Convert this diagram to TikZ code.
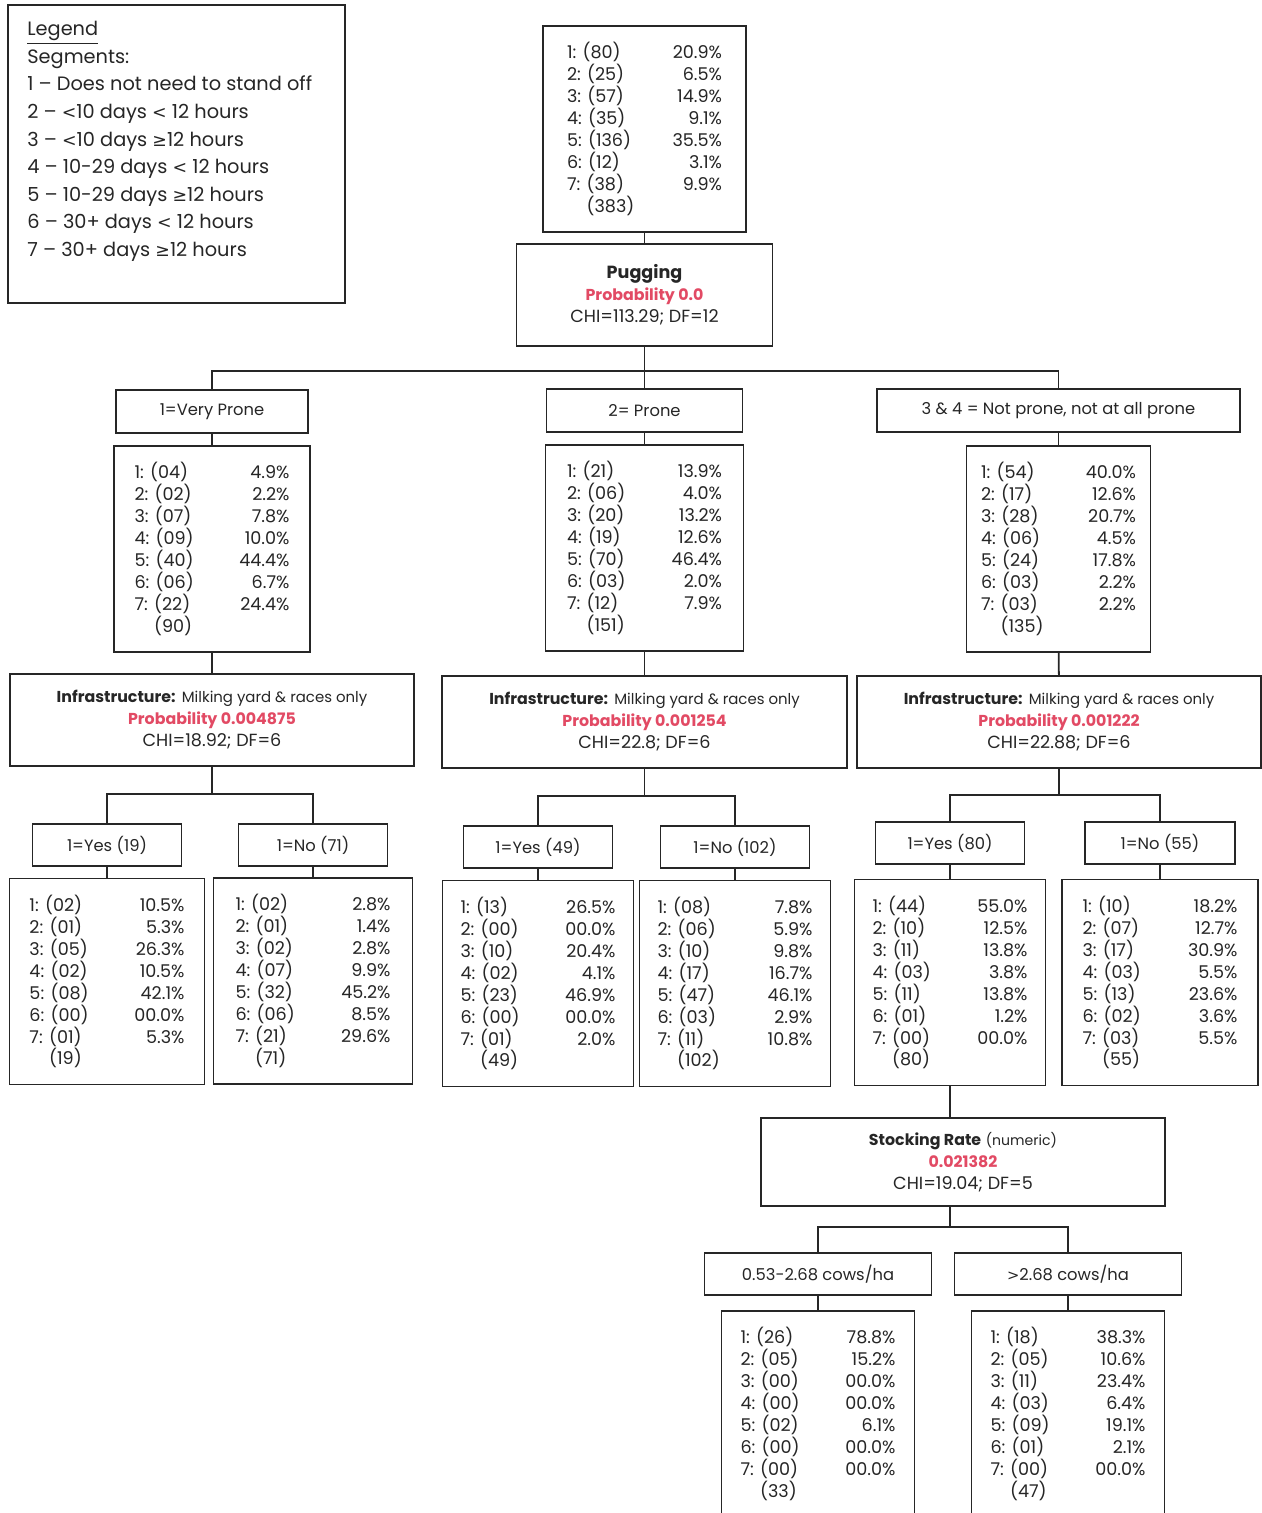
\documentclass[tikz,border=0pt]{standalone}
\usepackage{fontspec}
\setmainfont{Poppins}
\newfontfamily\symfont{DejaVu Sans}[Scale=0.9]
\usepackage{xcolor}
\definecolor{lineGray}{HTML}{262626}
\definecolor{probRed}{HTML}{E24A64}
\usepackage{tikz}

% one row of a segment table, and the total under it
\newcommand{\seg}[2]{\makebox[3.1cm]{#1\hfill#2}}
\newcommand{\segtot}[1]{\makebox[3.1cm][l]{\hphantom{7: }#1}}
% comparison signs, taken from DejaVu
\newcommand{\segLt}{{\symfont <}}
\newcommand{\segGt}{{\symfont >}}
\newcommand{\segGe}{{\symfont ≥}}
% heading parts of a split box
\newcommand{\splitHead}[2]{{\fontsize{9}{12.5}\selectfont\textbf{#1}} {\fontsize{8.5}{12.5}\selectfont #2}}
\newcommand{\splitProb}[1]{{\fontsize{9}{12.5}\selectfont\textcolor{probRed}{\textbf{#1}}}}

\begin{document}
\begin{tikzpicture}[
        boxBase/.style={
            draw=lineGray,
            line width=1pt,
            fill=white,
            text=lineGray,
            inner sep=0pt,
            align=center,
            font=\fontsize{10}{12.5}\selectfont
        },
        labelNode/.style={
            boxBase,
            minimum height=0.85cm,
            font=\fontsize{9.3}{12.5}\selectfont
        },
        splitNode/.style={
            boxBase,
            minimum height=1.84cm
        },
        dataNode/.style={
            boxBase,
            align=left,
            minimum height=4.12cm
        },
        connLine/.style={
            lineGray,
            line width=1pt
        }
    ]
    \clip (0,0) rectangle (25.24,-30.26);

    % Legend
    \node[boxBase, minimum width=6.74cm, minimum height=5.96cm] (legend) at (3.53,-3.08) {};
    \node[anchor=north west, inner sep=0pt, align=left, text=lineGray,
          font=\fontsize{11}{15.7}\selectfont] (legendtext) at (0.54,-0.42)
        {\underline{Legend}\\ Segments:\\ 1 – Does not need to stand off\\
         2 – \segLt10 days \segLt{} 12 hours\\ 3 – \segLt10 days \segGe12 hours\\
         4 – 10-29 days \segLt{} 12 hours\\ 5 – 10-29 days \segGe12 hours\\
         6 – 30+ days \segLt{} 12 hours\\ 7 – 30+ days \segGe12 hours};

    % Root and first split
    \node[dataNode, minimum width=4.06cm] (root) at (12.89,-2.58)
        {\seg{1: (80)}{20.9\%}\\ \seg{2: (25)}{6.5\%}\\ \seg{3: (57)}{14.9\%}\\ \seg{4: (35)}{9.1\%}\\
         \seg{5: (136)}{35.5\%}\\ \seg{6: (12)}{3.1\%}\\ \seg{7: (38)}{9.9\%}\\ \segtot{(383)}};
    \node[splitNode, minimum width=5.12cm, minimum height=2.04cm] (pug) at (12.89,-5.90)
        {\textbf{Pugging}\\ \splitProb{Probability 0.0}\\ CHI=113.29; DF=12};

    % Pugging classes
    \node[labelNode, minimum width=3.84cm] (vp) at (4.24,-8.23) {1=Very Prone};
    \node[labelNode, minimum width=3.92cm] (pr) at (12.89,-8.21) {2= Prone};
    \node[labelNode, minimum width=7.26cm] (np) at (21.17,-8.21) {3 \& 4 = Not prone, not at all prone};

    \node[dataNode, minimum width=3.92cm] (vpd) at (4.24,-10.98)
        {\seg{1: (04)}{4.9\%}\\ \seg{2: (02)}{2.2\%}\\ \seg{3: (07)}{7.8\%}\\ \seg{4: (09)}{10.0\%}\\
         \seg{5: (40)}{44.4\%}\\ \seg{6: (06)}{6.7\%}\\ \seg{7: (22)}{24.4\%}\\ \segtot{(90)}};
    \node[dataNode, minimum width=3.96cm] (prd) at (12.89,-10.96)
        {\seg{1: (21)}{13.9\%}\\ \seg{2: (06)}{4.0\%}\\ \seg{3: (20)}{13.2\%}\\ \seg{4: (19)}{12.6\%}\\
         \seg{5: (70)}{46.4\%}\\ \seg{6: (03)}{2.0\%}\\ \seg{7: (12)}{7.9\%}\\ \segtot{(151)}};
    \node[dataNode, minimum width=3.68cm] (npd) at (21.17,-10.98)
        {\seg{1: (54)}{40.0\%}\\ \seg{2: (17)}{12.6\%}\\ \seg{3: (28)}{20.7\%}\\ \seg{4: (06)}{4.5\%}\\
         \seg{5: (24)}{17.8\%}\\ \seg{6: (03)}{2.2\%}\\ \seg{7: (03)}{2.2\%}\\ \segtot{(135)}};

    % Infrastructure splits
    \node[splitNode, minimum width=8.08cm] (infL) at (4.24,-14.40)
        {\splitHead{Infrastructure:}{Milking yard \& races only}\\ \splitProb{Probability 0.004875}\\ CHI=18.92; DF=6};
    \node[splitNode, minimum width=8.10cm] (infM) at (12.89,-14.44)
        {\splitHead{Infrastructure:}{Milking yard \& races only}\\ \splitProb{Probability 0.001254}\\ CHI=22.8; DF=6};
    \node[splitNode, minimum width=8.08cm] (infR) at (21.18,-14.44)
        {\splitHead{Infrastructure:}{Milking yard \& races only}\\ \splitProb{Probability 0.001222}\\ CHI=22.88; DF=6};

    \node[labelNode, minimum width=2.98cm] (lyes) at (2.14,-16.90) {1=Yes (19)};
    \node[labelNode, minimum width=2.98cm] (lno) at (6.26,-16.90) {1=No (71)};
    \node[labelNode, minimum width=2.98cm] (myes) at (10.76,-16.94) {1=Yes (49)};
    \node[labelNode, minimum width=2.98cm] (mno) at (14.70,-16.94) {1=No (102)};
    \node[labelNode, minimum width=2.98cm] (ryes) at (19.00,-16.86) {1=Yes (80)};
    \node[labelNode, minimum width=3.00cm] (rno) at (23.20,-16.86) {1=No (55)};

    \node[dataNode, minimum width=3.90cm] (lyd) at (2.14,-19.63)
        {\seg{1: (02)}{10.5\%}\\ \seg{2: (01)}{5.3\%}\\ \seg{3: (05)}{26.3\%}\\ \seg{4: (02)}{10.5\%}\\
         \seg{5: (08)}{42.1\%}\\ \seg{6: (00)}{00.0\%}\\ \seg{7: (01)}{5.3\%}\\ \segtot{(19)}};
    \node[dataNode, minimum width=3.98cm] (lnd) at (6.26,-19.62)
        {\seg{1: (02)}{2.8\%}\\ \seg{2: (01)}{1.4\%}\\ \seg{3: (02)}{2.8\%}\\ \seg{4: (07)}{9.9\%}\\
         \seg{5: (32)}{45.2\%}\\ \seg{6: (06)}{8.5\%}\\ \seg{7: (21)}{29.6\%}\\ \segtot{(71)}};
    \node[dataNode, minimum width=3.82cm] (myd) at (10.76,-19.67)
        {\seg{1: (13)}{26.5\%}\\ \seg{2: (00)}{00.0\%}\\ \seg{3: (10)}{20.4\%}\\ \seg{4: (02)}{4.1\%}\\
         \seg{5: (23)}{46.9\%}\\ \seg{6: (00)}{00.0\%}\\ \seg{7: (01)}{2.0\%}\\ \segtot{(49)}};
    \node[dataNode, minimum width=3.82cm] (mnd) at (14.70,-19.67)
        {\seg{1: (08)}{7.8\%}\\ \seg{2: (06)}{5.9\%}\\ \seg{3: (10)}{9.8\%}\\ \seg{4: (17)}{16.7\%}\\
         \seg{5: (47)}{46.1\%}\\ \seg{6: (03)}{2.9\%}\\ \seg{7: (11)}{10.8\%}\\ \segtot{(102)}};
    \node[dataNode, minimum width=3.82cm] (ryd) at (19.00,-19.65)
        {\seg{1: (44)}{55.0\%}\\ \seg{2: (10)}{12.5\%}\\ \seg{3: (11)}{13.8\%}\\ \seg{4: (03)}{3.8\%}\\
         \seg{5: (11)}{13.8\%}\\ \seg{6: (01)}{1.2\%}\\ \seg{7: (00)}{00.0\%}\\ \segtot{(80)}};
    \node[dataNode, minimum width=3.92cm] (rnd) at (23.20,-19.65)
        {\seg{1: (10)}{18.2\%}\\ \seg{2: (07)}{12.7\%}\\ \seg{3: (17)}{30.9\%}\\ \seg{4: (03)}{5.5\%}\\
         \seg{5: (13)}{23.6\%}\\ \seg{6: (02)}{3.6\%}\\ \seg{7: (03)}{5.5\%}\\ \segtot{(55)}};

    % Stocking rate split
    \node[splitNode, minimum width=8.08cm, minimum height=1.76cm] (sr) at (19.26,-23.24)
        {{\fontsize{9}{12.5}\selectfont\textbf{Stocking Rate}} {\fontsize{8}{12.5}\selectfont(numeric)}\\
         \splitProb{0.021382}\\ CHI=19.04; DF=5};
    \node[labelNode, minimum width=4.54cm] (lo) at (16.36,-25.48) {0.53-2.68 cows/ha};
    \node[labelNode, minimum width=4.54cm] (hi) at (21.36,-25.48) {\segGt2.68 cows/ha};

    \node[dataNode, minimum width=3.86cm] (lod) at (16.36,-28.28)
        {\seg{1: (26)}{78.8\%}\\ \seg{2: (05)}{15.2\%}\\ \seg{3: (00)}{00.0\%}\\ \seg{4: (00)}{00.0\%}\\
         \seg{5: (02)}{6.1\%}\\ \seg{6: (00)}{00.0\%}\\ \seg{7: (00)}{00.0\%}\\ \segtot{(33)}};
    \node[dataNode, minimum width=3.86cm] (hid) at (21.36,-28.28)
        {\seg{1: (18)}{38.3\%}\\ \seg{2: (05)}{10.6\%}\\ \seg{3: (11)}{23.4\%}\\ \seg{4: (03)}{6.4\%}\\
         \seg{5: (09)}{19.1\%}\\ \seg{6: (01)}{2.1\%}\\ \seg{7: (00)}{00.0\%}\\ \segtot{(47)}};

    % Bar levels
    \coordinate (bar1) at (12.89,-7.42);
    \coordinate (barL) at (4.24,-15.88);
    \coordinate (barM) at (12.89,-15.92);
    \coordinate (barR) at (21.18,-15.90);
    \coordinate (barS) at (19.00,-24.54);

    % Connections
    \draw[connLine] (root) -- (pug);
    \draw[connLine] (pug) -- (pr);
    \draw[connLine] (vp.north) |- (bar1) -| (np.north);
    \draw[connLine] (vp) -- (vpd);
    \draw[connLine] (pr) -- (prd);
    \draw[connLine] (np) -- (npd);
    \draw[connLine] (vpd) -- (infL);
    \draw[connLine] (prd) -- (infM);
    \draw[connLine] (npd) -- (infR);

    \draw[connLine] (infL.south) -- (barL);
    \draw[connLine] (infM.south) -- (barM);
    \draw[connLine] (infR.south) -- (barR);
    \draw[connLine] (lyes.north) |- (barL) -| (lno.north);
    \draw[connLine] (myes.north) |- (barM) -| (mno.north);
    \draw[connLine] (ryes.north) |- (barR) -| (rno.north);
    \draw[connLine] (lyes) -- (lyd);
    \draw[connLine] (lno) -- (lnd);
    \draw[connLine] (myes) -- (myd);
    \draw[connLine] (mno) -- (mnd);
    \draw[connLine] (ryes) -- (ryd);
    \draw[connLine] (rno) -- (rnd);

    \draw[connLine] (ryd.south) -- (ryd.south |- sr.north);
    \draw[connLine] (ryd.south |- sr.south) -- (barS);
    \draw[connLine] (lo.north) |- (barS) -| (hi.north);
    \draw[connLine] (lo) -- (lod);
    \draw[connLine] (hi) -- (hid);
\end{tikzpicture}
\end{document}
